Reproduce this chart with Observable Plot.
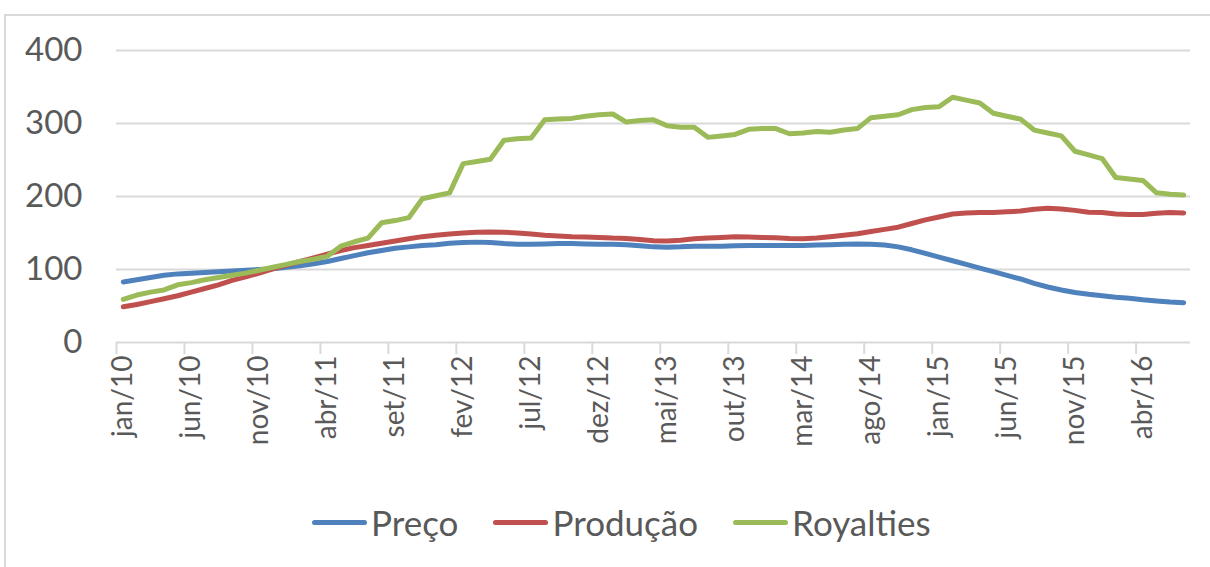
<!DOCTYPE html>
<html>
<head>
<meta charset="utf-8">
<script src="https://cdn.jsdelivr.net/npm/d3@7"></script>
<script src="https://cdn.jsdelivr.net/npm/@observablehq/plot@0.6"></script>
<style>
  html, body { margin: 0; padding: 0; background: #fff; }
  #wrap { position: relative; width: 1210px; height: 567px; overflow: hidden; font-family: Lato, "Open Sans", sans-serif; }
  #frame { position: absolute; left: 4px; top: 14px; width: 1220px; height: 580px; border: 2px solid #d9d9d9; box-sizing: border-box; }
  #chart { position: absolute; left: 0; top: 0; }
  #legend { position: absolute; left: 312px; top: 501px; display: flex; align-items: center; color: #595959; font-size: 35px; white-space: nowrap; }
  .item { display: flex; align-items: center; margin-right: 35px; }
  .sw { width: 55px; height: 5px; border-radius: 3px; margin-right: 4px; }
</style>
</head>
<body>
<div id="wrap">
  <div id="frame"></div>
  <div id="chart"></div>
  <div id="legend"></div>
</div>
<script>
const seriesNames = ["Preço", "Produção", "Royalties"];
const seriesColors = ["#4f81bd", "#c0504d", "#9bbb59"];

// monthly values, jan/2010 .. jul/2016 (79 months)
const preco = [83, 86, 89, 92, 94, 95, 96, 97, 98, 99, 100, 101, 103, 105, 108, 111, 115, 119, 123, 126,
  129, 131, 133, 134, 136, 137, 137.5, 137, 135.5, 134.5, 134.5, 135, 135.5, 135.5, 135, 134.5, 134.5, 134, 132.5, 131,
  130.5, 131, 132, 132, 132, 132.5, 133, 133, 133, 133, 133, 133.5, 134, 134.5, 135, 134.5, 133.5, 131, 127, 122,
  117, 112, 107, 102, 97, 92, 87, 81, 76, 72, 68.5, 66, 64, 62, 60.5, 58.5, 57, 55.5, 54.5];

const producao = [49, 52, 56, 60, 64, 69, 74, 79, 85, 90, 95, 101, 106, 111, 116, 121, 126, 130, 133, 136,
  139, 142, 145, 147, 148.5, 150, 151, 151.5, 151, 150, 148.5, 147, 146, 145, 144.5, 144, 143, 142.5, 141, 139.5,
  139, 140, 142, 143, 144, 145, 144.5, 144, 143.5, 142.5, 142, 143, 145, 147, 149, 152, 155, 158, 163, 168,
  172, 176, 177.5, 178, 178, 179, 180, 182.5, 184, 183, 181, 178.5, 178, 176, 175.5, 175.5, 177, 178, 177.5];

const royalties = [59, 65, 69, 72, 79, 82, 86, 89, 92, 95, 99, 103, 107, 111, 114, 118, 132, 138, 143, 164,
  167, 171, 197, 201, 205, 245, 248, 251, 277, 279, 280, 305, 306, 307, 310, 312, 313, 302, 304, 305,
  297, 295, 295, 281, 283, 285, 292, 293, 293, 286, 287, 289, 288, 291, 293, 308, 310, 312, 319, 322,
  323, 336, 332, 328, 314, 310, 306, 291, 287, 283, 262, 257, 252, 226, 224, 222, 205, 203, 202];

const tickLabels = ["jan/10", "jun/10", "nov/10", "abr/11", "set/11", "fev/12", "jul/12", "dez/12",
  "mai/13", "out/13", "mar/14", "ago/14", "jan/15", "jun/15", "nov/15", "abr/16"];
const yTicks = [0, 100, 200, 300, 400];
const gridValues = [100, 200, 300, 400];

const allSeries = [preco, producao, royalties];
const data = allSeries.flatMap((vals, s) => vals.map((v, i) => ({i, v, s: seriesNames[s]})));
const nMonths = preco.length;
const labelPos = tickLabels.map((_, k) => k * 5);
const tickPos = labelPos.map(p => p - 0.5);

const FONT = "Lato, 'Open Sans', sans-serif";
const chart = Plot.plot({
  width: 1210,
  height: 470,
  marginLeft: 116,
  marginRight: 20,
  marginTop: 50,
  marginBottom: 128,
  style: {fontFamily: FONT, color: "#595959", background: "transparent", overflow: "visible"},
  x: {type: "linear", domain: [-0.5, nMonths - 0.5], label: null},
  y: {domain: [0, 400], label: null},
  color: {domain: seriesNames, range: seriesColors},
  marks: [
    Plot.ruleY(gridValues, {stroke: "#d9d9d9", strokeWidth: 2}),
    Plot.ruleY([0], {stroke: "#d9d9d9", strokeWidth: 2}),
    Plot.axisX(tickPos, {tickSize: 12, tickFormat: () => "", label: null, stroke: "#d9d9d9", strokeWidth: 2, strokeOpacity: 1}),
    Plot.axisX(labelPos, {tickSize: 0, tickPadding: 13, tickRotate: -90, fontSize: 28, fill: "#595959", label: null,
      tickFormat: p => tickLabels[p / 5]}),
    Plot.axisY(yTicks, {tickSize: 0, tickPadding: 34, fontSize: 33, fill: "#595959", label: null, tickFormat: d => String(d)}),
    Plot.line(data, {x: "i", y: "v", z: "s", stroke: "s", strokeWidth: 5, strokeLinecap: "round", strokeLinejoin: "round"})
  ]
});
document.getElementById("chart").appendChild(chart);

const legend = document.getElementById("legend");
seriesNames.forEach((name, k) => {
  const item = document.createElement("div");
  item.className = "item";
  const sw = document.createElement("div");
  sw.className = "sw";
  sw.style.background = seriesColors[k];
  const t = document.createElement("span");
  t.textContent = name;
  item.appendChild(sw);
  item.appendChild(t);
  legend.appendChild(item);
});
</script>
</body>
</html>
